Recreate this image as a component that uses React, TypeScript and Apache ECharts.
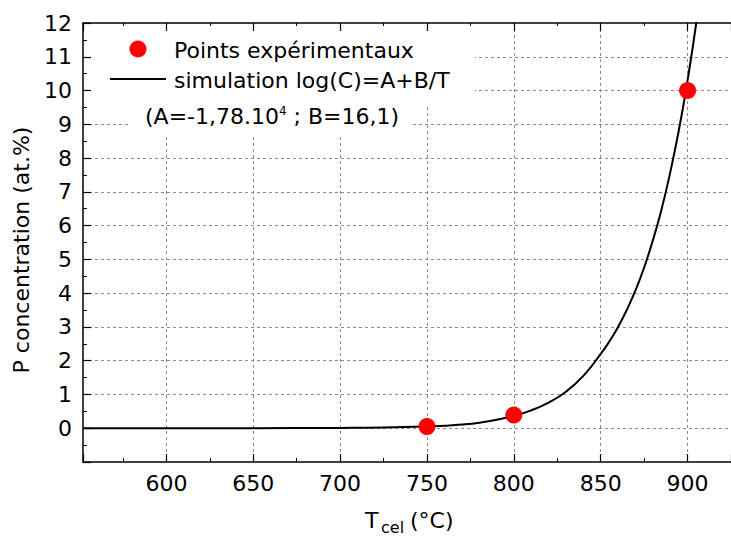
import React, { useEffect, useRef } from "react";
import * as echarts from "echarts";

const xTickLabels = [600, 650, 700, 750, 800, 850, 900];
const yTickLabels = [0, 1, 2, 3, 4, 5, 6, 7, 8, 9, 10, 11, 12];

const expT = [750, 800, 900];
const expC = [0.05, 0.39, 10.0];

const simT = [552, 600, 650, 700, 725, 750, 760, 770, 780, 790, 800, 810, 820, 830, 840, 850, 855, 860, 865, 870, 875, 880, 885, 890, 895, 900, 905, 910];
const simC = [0, 0, 0.003, 0.01, 0.02, 0.05, 0.075, 0.11, 0.165, 0.25, 0.37, 0.53, 0.76, 1.08, 1.55, 2.2, 2.57, 3.0, 3.5, 4.08, 4.76, 5.56, 6.48, 7.57, 8.83, 10.3, 12.0, 14.0];

const legendLabels = ["Points expérimentaux", "simulation log(C)=A+B/T"];
const paramText = ["(A=-1,78.10", "4", " ; B=16,1)"];
const yName = "P concentration (at.%)";
const xNameParts = ["T", "cel", "(°C)"];

const FONT = "DejaVu Sans";

export default function App() {
  const ref = useRef<HTMLDivElement>(null);
  useEffect(() => {
    document.body.style.margin = "0";
    const chart = echarts.init(ref.current!, null, { renderer: "svg" });
    const gridLine = { show: true, showMinLine: false, showMaxLine: false, lineStyle: { color: "#8a8a8a", width: 1, type: [3, 3] as any } };
    const xCommon = {
      type: "value" as const,
      min: 552,
      max: 925,
      splitNumber: 7,
      minInterval: 50,
      maxInterval: 50,
    };
    const yCommon = { type: "value" as const, min: -1, max: 12, interval: 1 };
    chart.setOption({
      animation: false,
      grid: { left: 83, top: 23, right: 0, bottom: 75, containLabel: false },
      xAxis: [
        {
          ...xCommon,
          position: "bottom",
          axisLine: { show: true, onZero: false, lineStyle: { color: "#000", width: 1.5 } },
          axisTick: { show: true, inside: true, length: 8, lineStyle: { color: "#000", width: 1.2 } },
          minorTick: { show: true, splitNumber: 2, length: 4, lineStyle: { color: "#000", width: 1 } },
          axisLabel: {
            show: true,
            showMinLabel: false,
            showMaxLabel: false,
            margin: 10,
            color: "#000",
            fontFamily: FONT,
            fontSize: 22,
            formatter: (v: number) => (xTickLabels.indexOf(v) >= 0 ? String(v) : ""),
          },
          splitLine: gridLine,
        },
        {
          ...xCommon,
          position: "top",
          z: 5,
          axisLine: { show: true, onZero: false, lineStyle: { color: "#000", width: 1.5 } },
          axisTick: { show: true, inside: true, length: 8, lineStyle: { color: "#000", width: 1.2 } },
          minorTick: { show: true, splitNumber: 2, length: 3, lineStyle: { color: "#000", width: 1 } },
          axisLabel: { show: false },
          splitLine: { show: false },
        },
      ],
      yAxis: [
        {
          ...yCommon,
          position: "left",
          axisLine: { show: false },
          axisTick: { show: false },
          axisLabel: { show: false },
          splitLine: gridLine,
        },
        {
          ...yCommon,
          position: "left",
          z: 5,
          axisLine: { show: true, onZero: false, lineStyle: { color: "#000", width: 1.5 } },
          axisTick: { show: true, inside: true, length: 8, lineStyle: { color: "#000", width: 1.2 } },
          minorTick: { show: true, splitNumber: 2, length: 4, lineStyle: { color: "#000", width: 1 } },
          axisLabel: {
            show: true,
            margin: 11,
            color: "#000",
            fontFamily: FONT,
            fontSize: 22,
            formatter: (v: number) => (yTickLabels.indexOf(v) >= 0 ? String(v) : ""),
          },
          splitLine: { show: false },
        },
      ],
      series: [
        {
          type: "line",
          data: simT.map((t, i) => [t, simC[i]]),
          showSymbol: false,
          smooth: 0.5,
          lineStyle: { color: "#000", width: 2 },
          z: 3,
        },
        {
          type: "scatter",
          data: expT.map((t, i) => [t, expC[i]]),
          symbol: "circle",
          symbolSize: 17,
          itemStyle: { color: "#ff0000", opacity: 1 },
          z: 4,
        },
      ],
      graphic: [
        { type: "rect", z: 1, shape: { x: 84, y: 24, width: 391, height: 80 }, style: { fill: "#fff" } },
        { type: "rect", z: 1, shape: { x: 130, y: 103, width: 280, height: 33 }, style: { fill: "#fff" } },
        { type: "circle", z: 6, shape: { cx: 138, cy: 49, r: 8.5 }, style: { fill: "#ff0000" } },
        { type: "line", z: 6, shape: { x1: 110, y1: 79, x2: 166, y2: 79 }, style: { stroke: "#000", lineWidth: 2 } },
        {
          type: "text", z: 6, x: 174, y: 50,
          style: { text: legendLabels[0], fill: "#000", font: `22px "${FONT}"`, align: "left", verticalAlign: "middle" },
        },
        {
          type: "text", z: 6, x: 174, y: 80,
          style: { text: legendLabels[1], fill: "#000", font: `22px "${FONT}"`, align: "left", verticalAlign: "middle" },
        },
        {
          type: "text", z: 6, x: 145, y: 116,
          style: {
            text: `{m|${paramText[0]}}{s|${paramText[1]}}{m|${paramText[2]}}`,
            align: "left",
            verticalAlign: "middle",
            rich: {
              m: { fontFamily: FONT, fontSize: 22, fill: "#000", color: "#000" },
              s: { fontFamily: FONT, fontSize: 12, fill: "#000", color: "#000", verticalAlign: "top" },
            },
          },
        },
        {
          type: "text", z: 6, x: 21, y: 250, rotation: Math.PI / 2,
          style: { text: yName, fill: "#000", font: `22px "${FONT}"`, align: "center", verticalAlign: "middle" },
        },
        {
          type: "text", z: 6, x: 365, y: 520,
          style: { text: xNameParts[0], fill: "#000", font: `22px "${FONT}"`, align: "left", verticalAlign: "middle" },
        },
        {
          type: "text", z: 6, x: 381, y: 527,
          style: { text: xNameParts[1], fill: "#000", font: `16px "${FONT}"`, align: "left", verticalAlign: "middle" },
        },
        {
          type: "text", z: 6, x: 410, y: 520,
          style: { text: xNameParts[2], fill: "#000", font: `22px "${FONT}"`, align: "left", verticalAlign: "middle" },
        },
      ],
    });
    return () => chart.dispose();
  }, []);
  return <div ref={ref} style={{ width: 731, height: 537 }} />;
}
